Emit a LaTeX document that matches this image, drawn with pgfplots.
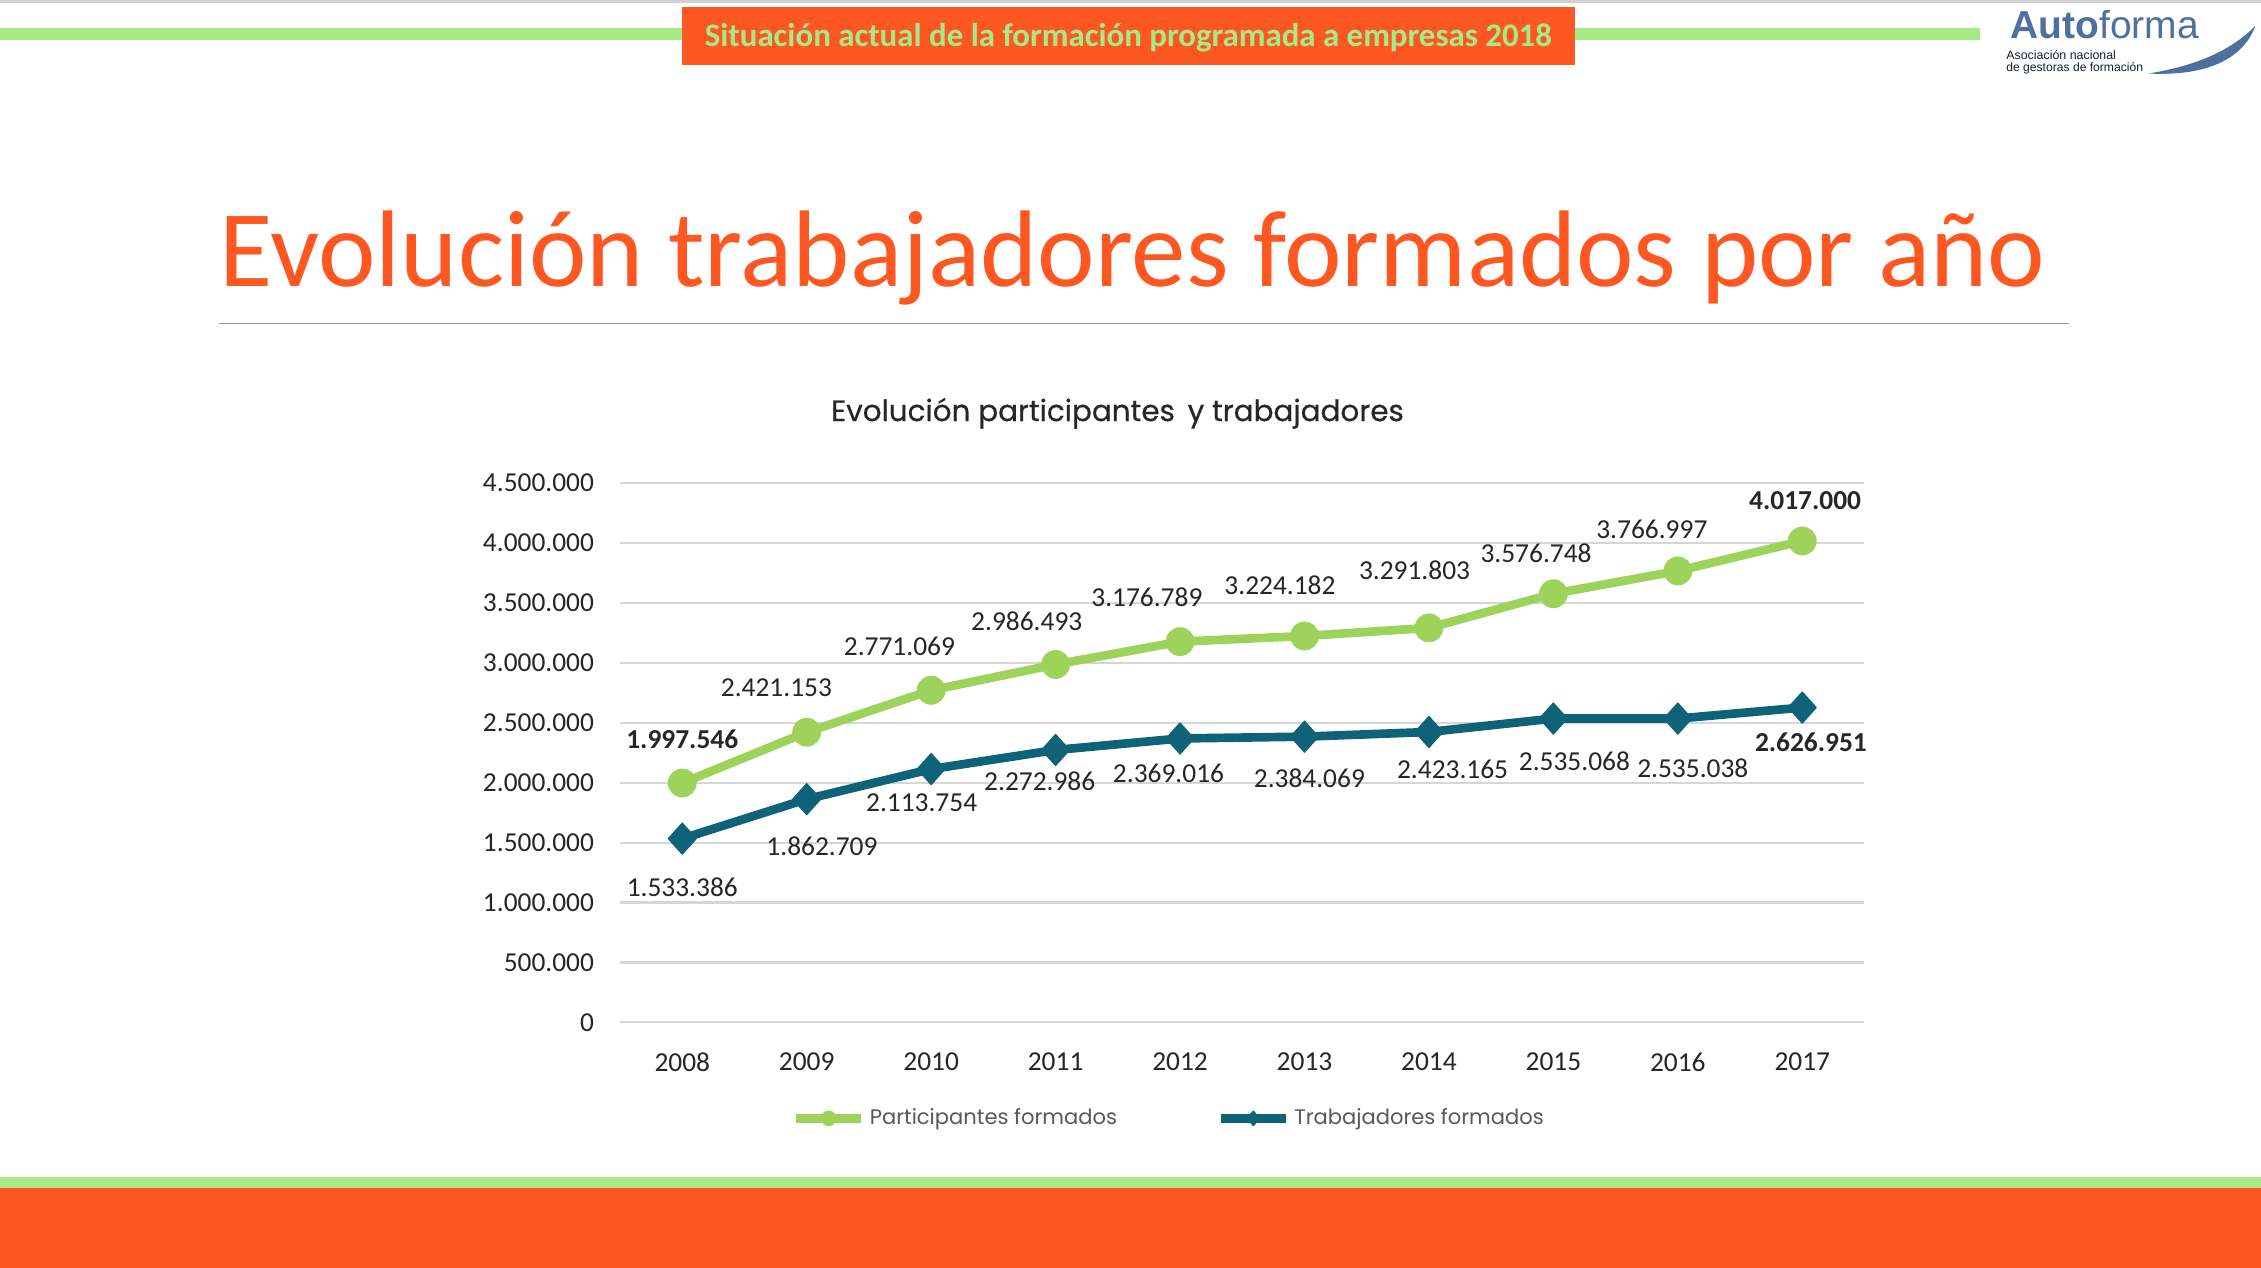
\documentclass[border=0pt]{standalone}
\usepackage{fontspec}
\setmainfont{Carlito}
\newfontfamily\pop{Poppins}
\newfontfamily\popm[FakeBold=0.5]{Poppins}
\newfontfamily\lib{Liberation Sans}
\usepackage{pgfplots}
\pgfplotsset{compat=1.18}
\usepackage{pgfplotstable}
\definecolor{orng}{HTML}{FF5722}
\definecolor{lgreen}{HTML}{A6EA86}
\definecolor{pgreen}{HTML}{9DD35B}
\definecolor{tealc}{HTML}{0F6378}
\definecolor{logoc}{HTML}{4E6FA0}
\definecolor{lab}{HTML}{262626}

\pgfplotstableread{
x y lab dx dy
0 1997546 {\textbf{1.997.546}} 0 15
1 2421153 2.421.153 -10.5 15.5
2 2771069 2.771.069 -11 15.3
3 2986493 2.986.493 -10 15
4 3176789 3.176.789 -11.5 15.5
5 3224182 3.224.182 -8.5 17.5
6 3291803 3.291.803 -5 20
7 3576748 3.576.748 -6 14
8 3766997 3.766.997 -9 14.5
9 4017000 {\textbf{4.017.000}} 1 14
}\partdata

\pgfplotstableread{
x y lab dx dy
0 1533386 1.533.386 0 -16.7
1 1862709 1.862.709 5.3 -16.4
2 2113754 2.113.754 -3.3 -11.8
3 2272986 2.272.986 -5.5 -11
4 2369016 2.369.016 -4 -12
5 2384069 2.384.069 1.7 -14.5
6 2423165 2.423.165 8.2 -13
7 2535068 2.535.068 7.3 -14.8
8 2535038 2.535.038 5.2 -17.1
9 2626951 {\textbf{2.626.951}} 3 -12.1
}\trabdata

\begin{document}
\begin{tikzpicture}
\path[use as bounding box] (0,0) rectangle (784pt,-439.5pt);
\begin{scope}[x=0.5pt,y=-0.5pt]
\fill[white] (0,0) rectangle (1568,879);
\fill[black!18] (0,0) rectangle (1568,2);
\fill[lgreen] (0,19.5) rectangle (473,27.5);
\fill[lgreen] (1092,19.5) rectangle (1373,27.5);
\fill[orng] (473,5) rectangle (1092,45);
\node[text=lgreen, font=\fontsize{11.4}{12}\selectfont\bfseries, anchor=base, inner sep=0pt] at (782.5,32.5) {Situación actual de la formación programada a empresas 2018};
% logo
\node[anchor=base west, inner sep=0pt, text=logoc, font=\lib\fontsize{13.5}{14}\selectfont] at (1394,27) {\textbf{Auto}forma};
\node[anchor=base west, inner sep=0pt, text=black!70!logoc, font=\lib\fontsize{4.3}{4.5}\selectfont] at (1391,41) {Asociación nacional};
\node[anchor=base west, inner sep=0pt, text=black!70!logoc, font=\lib\fontsize{4.2}{4.5}\selectfont] at (1391,49.5) {de gestoras de formación};
\fill[logoc] (1490,51) .. controls (1532,53) and (1556,40) .. (1564,18) .. controls (1548,34) and (1526,45) .. (1490,51) -- cycle;
% title
\node[text=orng, font=\fontsize{37.8}{40}\selectfont, anchor=base, inner sep=0pt] at (785.5,199) {Evolución trabajadores formados por año};
\draw[black!40, line width=0.5pt] (152,224.5) -- (1435,224.5);
\node[text=lab, font=\popm\fontsize{10.2}{11}\selectfont, anchor=base, inner sep=0pt] at (775,292) {Evolución participantes\, y trabajadores};
% bottom bands
\fill[lgreen] (0,816) rectangle (1568,824);
\fill[orng] (0,824) rectangle (1568,880);
\end{scope}

\begin{axis}[
  at={(215pt,-354.5pt)}, anchor=south west,
  width=431.5pt, height=187pt, scale only axis,
  xmin=-0.5, xmax=9.5, ymin=0, ymax=4500000,
  scaled y ticks=false,
  xtick={0,1,2,3,4,5,6,7,8,9},
  xticklabels={2008,2009,2010,2011,2012,2013,2014,2015,2016,2017},
  ytick={0,500000,1000000,1500000,2000000,2500000,3000000,3500000,4000000,4500000},
  yticklabels={0,500.000,1.000.000,1.500.000,2.000.000,2.500.000,3.000.000,3.500.000,4.000.000,4.500.000},
  /pgf/number format/assume math mode=true,
  ymajorgrids, grid style={draw=black!16, line width=0.75pt},
  axis line style={draw=none},
  major tick length=0pt,
  tick label style={font=\fontsize{9.5}{10}\selectfont, text=lab},
  xticklabel style={yshift=-7pt},
  yticklabel style={xshift=-5.5pt},
  clip=false,
  legend style={at={(0.442,-0.178)}, anchor=center, draw=none, fill=none,
    font=\pop\fontsize{7.3}{8}\selectfont, text=black!65,
    nodes={inner xsep=1.5pt},
    /tikz/every even column/.append style={column sep=33pt}},
  legend columns=2,
  legend image code/.code={
    \draw[#1, line width=3pt] (0pt,0pt) -- (22.5pt,0pt);
    \draw[#1, mark size=2.5pt, line width=0.4pt] plot coordinates {(11.25pt,0pt)};
  },
]
\addplot[pgreen, line width=3pt, line join=round, mark=*, mark size=4.8pt,
  mark options={solid, fill=pgreen, draw=pgreen, line width=0.4pt},
  nodes near coords, point meta=explicit symbolic,
  visualization depends on={\thisrow{dx}\as\dx},
  visualization depends on={\thisrow{dy}\as\dy},
  every node near coord/.append style={anchor=center, xshift=\dx*1pt, yshift=\dy*1pt,
    font=\fontsize{9.5}{10}\selectfont, text=lab}]
  table[x=x, y=y, meta=lab] {\partdata};
\addlegendentry{Participantes formados}
\addplot[tealc, line width=3pt, line join=round, mark=diamond*, mark size=5.4pt,
  mark options={solid, fill=tealc, draw=tealc, line width=0.4pt, xscale=1.2},
  nodes near coords, point meta=explicit symbolic,
  visualization depends on={\thisrow{dx}\as\dx},
  visualization depends on={\thisrow{dy}\as\dy},
  every node near coord/.append style={anchor=center, xshift=\dx*1pt, yshift=\dy*1pt,
    font=\fontsize{9.5}{10}\selectfont, text=lab}]
  table[x=x, y=y, meta=lab] {\trabdata};
\addlegendentry{Trabajadores formados}
\end{axis}
\end{tikzpicture}
\end{document}
